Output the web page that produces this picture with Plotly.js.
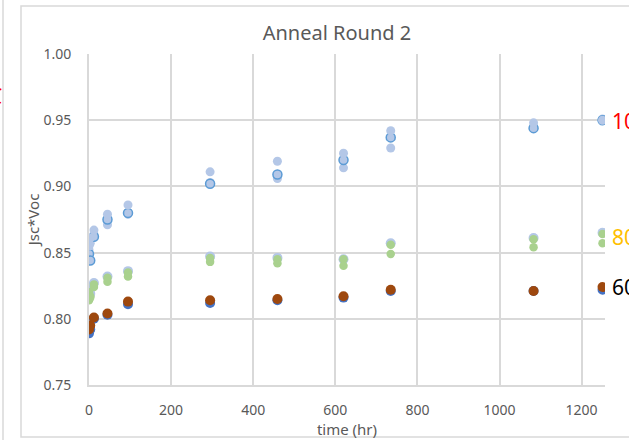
<!DOCTYPE html>
<html>
<head>
<meta charset="utf-8">
<script src="https://cdn.plot.ly/plotly-3.0.1.min.js"></script>
<style>
html,body{margin:0;padding:0;background:#fff;}
#chart{width:629px;height:440px;}
</style>
</head>
<body>
<div id="chart"></div>
<script>
// time (hr)
var times = [0, 3, 12, 45, 95, 295, 459, 620, 735, 1083, 1251];

// 100 C samples
var s100a = [0.855, 0.861, 0.867, 0.879, 0.886, 0.911, 0.919, 0.925, 0.942, 0.948, 0.950];
var s100b = [0.849, 0.844, 0.862, 0.875, 0.880, 0.902, 0.909, 0.920, 0.937, 0.944, 0.950];
var s100c = [0.852, 0.857, 0.864, 0.871, 0.879, 0.903, 0.906, 0.914, 0.929, 0.945, 0.951];

// 80 C samples
var s80a = [0.822, 0.819, 0.827, 0.832, 0.836, 0.847, 0.846, 0.845, 0.857, 0.861, 0.865];
var s80b = [0.820, 0.817, 0.826, 0.831, 0.835, 0.846, 0.845, 0.845, 0.856, 0.860, 0.864];
var s80c = [0.814, 0.816, 0.824, 0.828, 0.832, 0.843, 0.842, 0.840, 0.849, 0.854, 0.857];

// 60 C samples
var s60a = [0.789, 0.792, 0.800, 0.803, 0.811, 0.812, 0.814, 0.816, 0.821, 0.821, 0.822];
var s60b = [0.792, 0.795, 0.801, 0.804, 0.813, 0.814, 0.815, 0.817, 0.822, 0.821, 0.824];

var chartTitle = "Anneal Round 2";
var xTitle = "time (hr)";
var yTitle = "Jsc*Voc";
var groupLabels = ["100°C", "80°C", "60°C"];
var groupColors = ["#FF0000", "#FFC000", "#000000"];

var L = 89, T = 54, W = 516, H = 331;
function px(x){ return (x - L) / W; }
function py(y){ return 1 - (y - T) / H; }

function sc(y, fill, size, line){
  return {x: times, y: y, type: 'scatter', mode: 'markers', hoverinfo: 'skip',
    marker: {color: fill, size: size, line: line || {width: 0}}};
}

var LB = '#B4C7E7', MB = '#5B9BD5', GR = '#A9D18E', BR = '#9E480E', DB = '#4472C4';
var data = [
  sc(s100c, LB, 9),
  sc(s100b, LB, 9, {color: MB, width: 1.5}),
  sc(s100a, LB, 9),
  sc(s80a, LB, 10),
  sc(s80b, GR, 8.5),
  sc(s80c, GR, 8.5),
  sc(s60a, DB, 10),
  sc(s60b, BR, 10)
];

var font = "'Noto Sans', 'Open Sans', sans-serif";
var layout = {
  width: 629, height: 440,
  margin: {l: L, r: 629 - L - W, t: T, b: 440 - T - H},
  paper_bgcolor: '#fff', plot_bgcolor: '#fff',
  showlegend: false,
  font: {family: font, color: '#595959', size: 14},
  title: {text: chartTitle, font: {size: 20, color: '#595959', family: font},
          x: 337/629, xref: 'container', xanchor: 'center', y: 1 - 33/440, yref: 'container', yanchor: 'middle'},
  xaxis: {range: [0, 1257], dtick: 200, tick0: 0, showgrid: true, gridcolor: '#d9d9d9', gridwidth: 2,
          zeroline: false, showline: true, linecolor: '#d9d9d9', linewidth: 2, ticks: '',
          ticklabelstandoff: 11, tickfont: {size: 14, color: '#595959'},
          title: {text: xTitle, font: {size: 15, color: '#595959'}, standoff: 4}},
  yaxis: {range: [0.75, 1.0], dtick: 0.05, tick0: 0.75, tickformat: '.2f', showgrid: true, gridcolor: '#d9d9d9', gridwidth: 2,
          zeroline: false, showline: true, linecolor: '#d9d9d9', linewidth: 2, ticks: '',
          ticklabelstandoff: 13, tickfont: {size: 14, color: '#595959'},
          title: {text: yTitle, font: {size: 15, color: '#595959'}, standoff: 0}},
  shapes: [
    {type: 'rect', xref: 'paper', yref: 'paper', x0: px(21), x1: px(660), y0: py(437), y1: py(6),
     line: {color: '#d9d9d9', width: 1.5}, fillcolor: 'rgba(0,0,0,0)', layer: 'below'},
    {type: 'line', xref: 'paper', yref: 'paper', x0: px(3), x1: px(3), y0: py(445), y1: py(-5),
     line: {color: '#d9d9d9', width: 1.5}}
  ],
  annotations: [
    {xref: 'paper', yref: 'paper', x: px(610), y: py(121), xanchor: 'left', yanchor: 'middle', showarrow: false,
     text: groupLabels[0], font: {size: 21, color: groupColors[0], family: font}},
    {xref: 'paper', yref: 'paper', x: px(610), y: py(237), xanchor: 'left', yanchor: 'middle', showarrow: false,
     text: groupLabels[1], font: {size: 21, color: groupColors[1], family: font}},
    {xref: 'paper', yref: 'paper', x: px(610), y: py(287), xanchor: 'left', yanchor: 'middle', showarrow: false,
     text: groupLabels[2], font: {size: 21, color: groupColors[2], family: font}},
    {xref: 'paper', yref: 'paper', x: px(4), y: py(96), xanchor: 'right', yanchor: 'middle', showarrow: false,
     text: "C", font: {size: 21, color: '#FF0000', family: font}}
  ]
};

Plotly.newPlot('chart', data, layout, {staticPlot: true, displayModeBar: false});
</script>
</body>
</html>
